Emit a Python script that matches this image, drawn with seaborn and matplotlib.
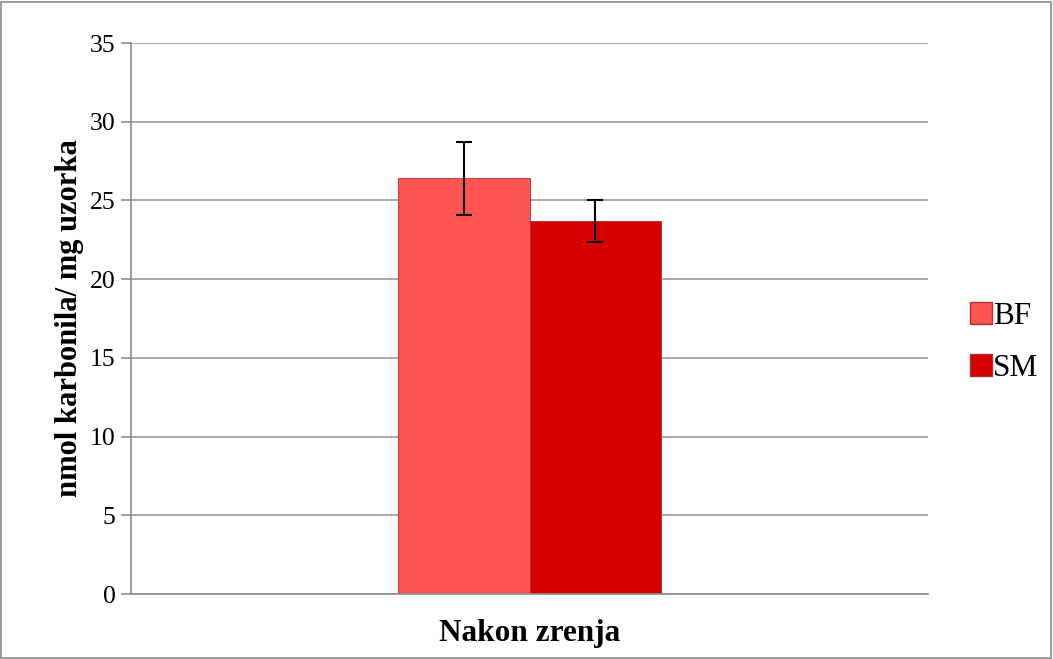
import matplotlib
matplotlib.use("Agg")
import matplotlib.pyplot as plt
import matplotlib.patches as mpatches
import pandas as pd
import seaborn as sns

# Chart data
categories = ["Nakon zrenja"]
groups = ["BF", "SM"]
values = [26.4, 23.7]
errors = [2.33, 1.33]
colors = ["#FF5454", "#D60000"]
y_ticks = [0, 5, 10, 15, 20, 25, 30, 35]

df = pd.DataFrame({
    "kategorija": categories * len(groups),
    "grupa": groups,
    "vrijednost": values,
})

sns.set_theme(style="white")
plt.rcParams["font.family"] = ["Liberation Serif", "DejaVu Serif"]
plt.rcParams["text.color"] = "black"
plt.rcParams["axes.labelcolor"] = "black"
plt.rcParams["ytick.labelcolor"] = "black"

fig = plt.figure(figsize=(10.53, 6.59), dpi=100)
ax = fig.add_axes([0.1244, 0.0986, 0.7569, 0.8361])

sns.barplot(
    data=df, x="kategorija", y="vrijednost", hue="grupa",
    palette=colors, saturation=1, width=0.33, ax=ax, legend=False,
    edgecolor="#B03030", linewidth=0.6, errorbar=None,
)

# Error bars placed at the bar centres seaborn drew
for patch, val, err in zip(ax.patches, values, errors):
    cx = patch.get_x() + patch.get_width() / 2
    ax.errorbar(cx, val, yerr=err, color="black", capsize=6,
                elinewidth=1.5, capthick=1.5, zorder=5)

ax.set_xlim(-0.5, 0.5)
ax.set_ylim(0, 35)
ax.set_yticks(y_ticks)
ax.set_yticklabels([str(t) for t in y_ticks], fontsize=18.5, color="black")
ax.set_xticks([])
ax.set_xlabel("Nakon zrenja", fontsize=22.5, fontweight="bold", labelpad=18,
              color="black")
ax.set_ylabel("nmol karbonila/ mg uzorka", fontsize=22, fontweight="bold",
              labelpad=4, color="black")

ax.grid(axis="y", color="#9A9A9A", linewidth=1.2)
ax.set_axisbelow(True)
for side in ["top", "right"]:
    ax.spines[side].set_visible(False)
for side in ["left", "bottom"]:
    ax.spines[side].set_color("#8C8C8C")
    ax.spines[side].set_linewidth(1.2)
ax.tick_params(axis="y", length=7, color="#8C8C8C", width=1.2, left=True, pad=4)

handles = [mpatches.Patch(facecolor=c, edgecolor="#B03030", label=g)
           for g, c in zip(groups, colors)]
ax.legend(handles=handles, loc="center left", bbox_to_anchor=(1.033, 0.457),
          frameon=False, fontsize=22.5, handlelength=0.7, handleheight=0.7,
          handletextpad=0.05, labelspacing=0.75, borderpad=0, labelcolor="black")

# Outer border of the chart area
fig.patches.append(mpatches.Rectangle((0.001, 0.002), 0.997, 0.995,
                                      transform=fig.transFigure, fill=False,
                                      edgecolor="#8C8C8C", linewidth=1.2))

fig.savefig("out.png", dpi=100)
